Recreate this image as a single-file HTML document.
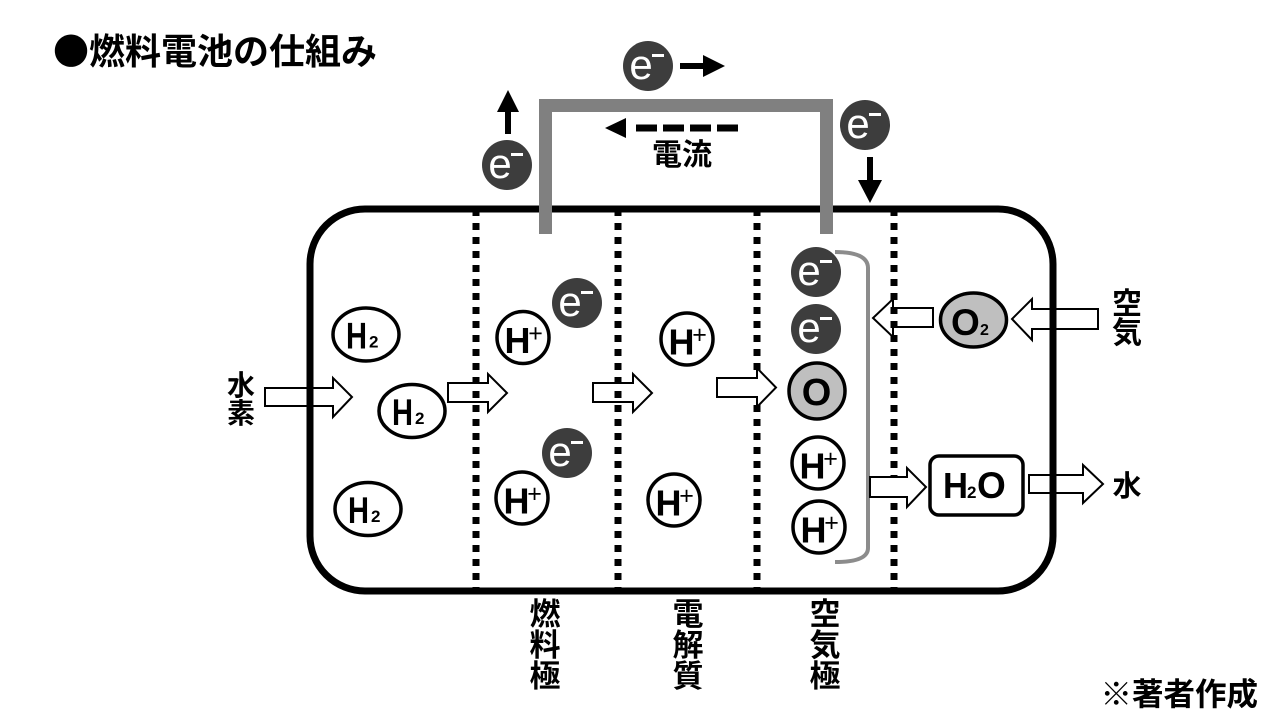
<!DOCTYPE html>
<html><head><meta charset="utf-8"><style>
html,body{margin:0;padding:0;background:#fff;}
svg{display:block;}
.jp{font-family:"Liberation Sans","Noto Sans CJK JP",sans-serif;font-weight:bold;fill:#000;}
.cj{font-family:"Noto Sans CJK JP",sans-serif;font-weight:bold;fill:#000;}
.lb{font-family:"Liberation Sans",sans-serif;font-weight:bold;fill:#000;}
.ew{font-family:"Liberation Sans",sans-serif;fill:#fff;font-size:42px;}
</style></head><body>
<svg width="1280" height="720" viewBox="0 0 1280 720" xmlns="http://www.w3.org/2000/svg">
<rect width="1280" height="720" fill="#fff"/>
<!-- title -->
<text class="cj" x="53" y="64" font-size="36">●燃料電池の仕組み</text>

<!-- white block arrows -->
<g fill="#fff" stroke="#000" stroke-width="2" stroke-linejoin="miter">
<polygon points="265,388 333,388 333,378 352,397 333,417 333,406 265,406"/>
<polygon points="448,383 488,383 488,374 507,393 488,412 488,402 448,402"/>
<polygon points="593,383 633,383 633,374 652,393 633,412 633,402 593,402"/>
<polygon points="933,308 893,308 893,299 873,318 893,337 893,327 933,327"/>
<polygon points="1098,309 1032,309 1032,299 1012,319 1032,340 1032,329 1098,329"/>
<polygon points="1029,475 1083,475 1083,465 1103,484 1083,503 1083,493 1029,493"/>
</g>

<!-- dotted lines -->
<g stroke="#000" stroke-width="7" stroke-dasharray="7 7">
<line x1="476" y1="209" x2="476" y2="591"/>
<line x1="618" y1="209" x2="618" y2="591"/>
<line x1="757" y1="209" x2="757" y2="591"/>
<line x1="894" y1="209" x2="894" y2="591"/>
</g>

<!-- bracket -->
<path d="M835,252 Q868,252 868,268 L868,548 Q868,562 835,562" fill="none" stroke="#8c8c8c" stroke-width="4"/>

<!-- arrow 4 and H2O arrow on top -->
<g fill="#fff" stroke="#000" stroke-width="2">
<polygon points="717,378 757,378 757,368 776,387.5 757,407 757,397 717,397"/>
<polygon points="870,477 907,477 907,468 926,487 907,507 907,497 870,497"/>
</g>

<!-- main box -->
<rect x="310" y="209" width="743" height="382" rx="55" ry="55" fill="none" stroke="#000" stroke-width="7"/>

<!-- gray wire -->
<polyline points="545.5,234 545.5,105.5 826.5,105.5 826.5,234" fill="none" stroke="#808080" stroke-width="13" stroke-linejoin="miter"/>

<!-- dashed current arrow -->
<line x1="738" y1="128" x2="630" y2="128" stroke="#000" stroke-width="7" stroke-dasharray="21 6"/>
<polygon points="626,118 605,128 626,138" fill="#000"/>
<text class="jp" x="682" y="165" font-size="30" text-anchor="middle">電流</text>

<!-- black arrows -->
<line x1="680" y1="66" x2="706" y2="66" stroke="#000" stroke-width="6"/>
<polygon points="703,55 725,66 703,77" fill="#000"/>
<line x1="508" y1="134" x2="508" y2="110" stroke="#000" stroke-width="6"/>
<polygon points="497,112 508,90 519,112" fill="#000"/>
<line x1="870" y1="157" x2="870" y2="182" stroke="#000" stroke-width="6"/>
<polygon points="858,180 870,203 882,180" fill="#000"/>

<!-- electrons -->
<g transform="translate(648,66)"><circle r="25" fill="#3d3d3d"/><text class="ew" x="-7" y="13" text-anchor="middle">e</text><rect x="4" y="-12" width="12" height="3" fill="#fff"/></g>
<g transform="translate(507,165)"><circle r="25" fill="#3d3d3d"/><text class="ew" x="-7" y="13" text-anchor="middle">e</text><rect x="4" y="-12" width="12" height="3" fill="#fff"/></g>
<g transform="translate(865,125)"><circle r="25" fill="#3d3d3d"/><text class="ew" x="-7" y="13" text-anchor="middle">e</text><rect x="4" y="-12" width="12" height="3" fill="#fff"/></g>
<g transform="translate(577,303)"><circle r="25" fill="#3d3d3d"/><text class="ew" x="-7" y="13" text-anchor="middle">e</text><rect x="4" y="-12" width="12" height="3" fill="#fff"/></g>
<g transform="translate(567,453)"><circle r="25" fill="#3d3d3d"/><text class="ew" x="-7" y="13" text-anchor="middle">e</text><rect x="4" y="-12" width="12" height="3" fill="#fff"/></g>
<g transform="translate(816,272)"><circle r="25" fill="#3d3d3d"/><text class="ew" x="-7" y="13" text-anchor="middle">e</text><rect x="4" y="-12" width="12" height="3" fill="#fff"/></g>
<g transform="translate(816,329)"><circle r="25" fill="#3d3d3d"/><text class="ew" x="-7" y="13" text-anchor="middle">e</text><rect x="4" y="-12" width="12" height="3" fill="#fff"/></g>

<!-- H2 ellipses -->
<g transform="translate(366,334.5)"><ellipse rx="33" ry="26.5" fill="#fff" stroke="#000" stroke-width="3.5"/><text class="lb" x="-20" y="14" font-size="37" textLength="21" lengthAdjust="spacingAndGlyphs">H</text><text class="lb" x="3" y="13" font-size="17">2</text></g>
<g transform="translate(412,411)"><ellipse rx="33" ry="26.5" fill="#fff" stroke="#000" stroke-width="3.5"/><text class="lb" x="-20" y="14" font-size="37" textLength="21" lengthAdjust="spacingAndGlyphs">H</text><text class="lb" x="3" y="13" font-size="17">2</text></g>
<g transform="translate(368,509)"><ellipse rx="33" ry="26.5" fill="#fff" stroke="#000" stroke-width="3.5"/><text class="lb" x="-20" y="14" font-size="37" textLength="21" lengthAdjust="spacingAndGlyphs">H</text><text class="lb" x="3" y="13" font-size="17">2</text></g>

<!-- H+ circles -->
<g transform="translate(523,337.5)"><circle r="26" fill="#fff" stroke="#000" stroke-width="3.5"/><text class="lb" x="-5.5" y="15.5" font-size="36" text-anchor="middle">H</text><text x="12.5" y="4" font-size="25" text-anchor="middle" font-family="Liberation Sans, sans-serif">+</text></g>
<g transform="translate(522,498)"><circle r="26" fill="#fff" stroke="#000" stroke-width="3.5"/><text class="lb" x="-5.5" y="15.5" font-size="36" text-anchor="middle">H</text><text x="12.5" y="4" font-size="25" text-anchor="middle" font-family="Liberation Sans, sans-serif">+</text></g>
<g transform="translate(687,339)"><circle r="26" fill="#fff" stroke="#000" stroke-width="3.5"/><text class="lb" x="-5.5" y="15.5" font-size="36" text-anchor="middle">H</text><text x="12.5" y="4" font-size="25" text-anchor="middle" font-family="Liberation Sans, sans-serif">+</text></g>
<g transform="translate(674,500)"><circle r="26" fill="#fff" stroke="#000" stroke-width="3.5"/><text class="lb" x="-5.5" y="15.5" font-size="36" text-anchor="middle">H</text><text x="12.5" y="4" font-size="25" text-anchor="middle" font-family="Liberation Sans, sans-serif">+</text></g>
<g transform="translate(818,463)"><circle r="26" fill="#fff" stroke="#000" stroke-width="3.5"/><text class="lb" x="-5.5" y="15.5" font-size="36" text-anchor="middle">H</text><text x="12.5" y="4" font-size="25" text-anchor="middle" font-family="Liberation Sans, sans-serif">+</text></g>
<g transform="translate(819,527)"><circle r="26" fill="#fff" stroke="#000" stroke-width="3.5"/><text class="lb" x="-5.5" y="15.5" font-size="36" text-anchor="middle">H</text><text x="12.5" y="4" font-size="25" text-anchor="middle" font-family="Liberation Sans, sans-serif">+</text></g>

<!-- O circle -->
<circle cx="817" cy="391" r="28" fill="#bfbfbf" stroke="#000" stroke-width="3.5"/>
<text class="lb" x="816.5" y="405" font-size="38" text-anchor="middle">O</text>

<!-- O2 ellipse -->
<ellipse cx="973.5" cy="320" rx="33" ry="27" fill="#bfbfbf" stroke="#000" stroke-width="3.5"/>
<text class="lb" x="951" y="335" font-size="37">O</text>
<text class="lb" x="980" y="335" font-size="16">2</text>

<!-- H2O box -->
<rect x="930" y="456" width="93" height="59" rx="9" ry="9" fill="#fff" stroke="#000" stroke-width="3.5"/>
<text class="lb" x="943" y="498" font-size="36" textLength="25" lengthAdjust="spacingAndGlyphs">H</text>
<text class="lb" x="967" y="498" font-size="17">2</text>
<text class="lb" x="977" y="498" font-size="37">O</text>

<!-- side labels -->
<text class="jp" x="241" y="395" font-size="28" text-anchor="middle">水</text>
<text class="jp" x="241" y="423" font-size="28" text-anchor="middle">素</text>
<text class="jp" x="1127" y="314" font-size="30" text-anchor="middle">空</text>
<text class="jp" x="1127" y="343" font-size="30" text-anchor="middle">気</text>
<text class="jp" x="1127" y="496" font-size="29" text-anchor="middle">水</text>

<!-- bottom labels -->
<text class="jp" x="545" y="625" font-size="31" text-anchor="middle">燃</text>
<text class="jp" x="545" y="656" font-size="31" text-anchor="middle">料</text>
<text class="jp" x="545" y="687" font-size="31" text-anchor="middle">極</text>
<text class="jp" x="688" y="625" font-size="31" text-anchor="middle">電</text>
<text class="jp" x="688" y="656" font-size="31" text-anchor="middle">解</text>
<text class="jp" x="688" y="687" font-size="31" text-anchor="middle">質</text>
<text class="jp" x="825" y="625" font-size="31" text-anchor="middle">空</text>
<text class="jp" x="825" y="656" font-size="31" text-anchor="middle">気</text>
<text class="jp" x="825" y="687" font-size="31" text-anchor="middle">極</text>

<text class="cj" x="1258" y="705" font-size="31.5" text-anchor="end">※著者作成</text>
</svg>
</body></html>
